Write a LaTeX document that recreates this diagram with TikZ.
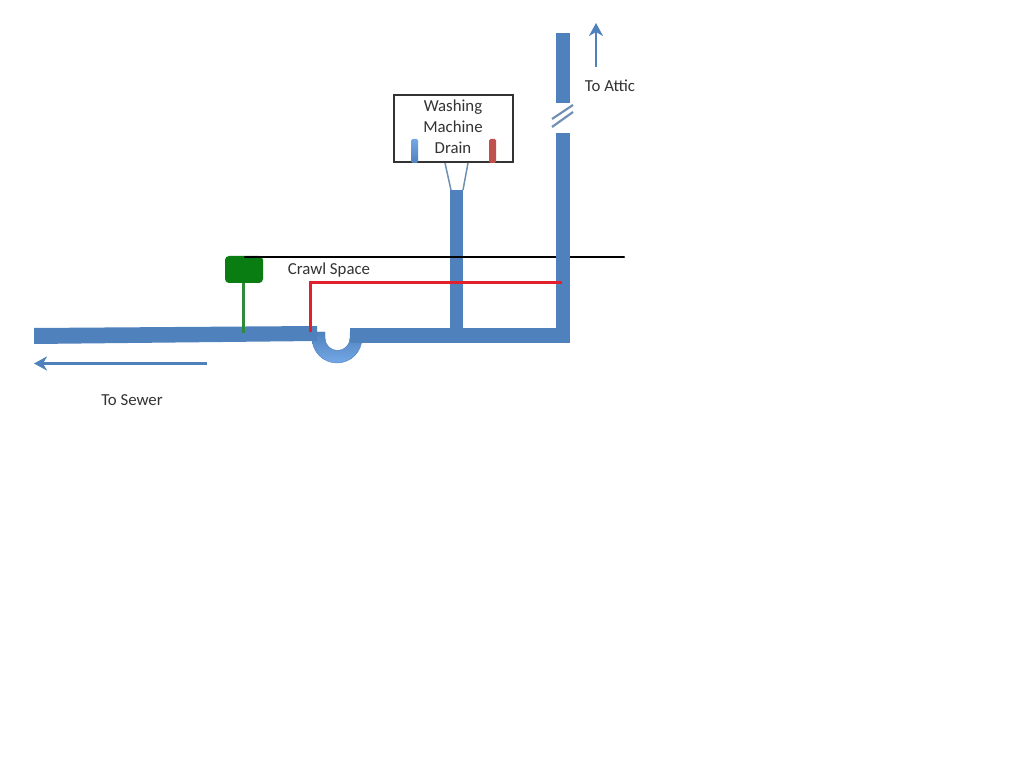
\documentclass[tikz,border=0pt]{standalone}
\usepackage{fontspec}
\setmainfont{Carlito}
\usetikzlibrary{
  positioning,
  arrows.meta
}
\definecolor{pipeblue}{HTML}{4F81BD}
\definecolor{traplight}{HTML}{74A8E6}
\definecolor{thinblue}{HTML}{6F8FB5}
\definecolor{tabred}{HTML}{C0504D}
\definecolor{valvegreen}{HTML}{0A7D12}
\definecolor{stemgreen}{HTML}{2E8B3A}
\definecolor{wirered}{HTML}{E0202C}

\begin{document}
\begin{tikzpicture}[
  x=1pt, y=-1pt,
  pipe/.style={fill=pipeblue, draw=none},
  label/.style={font=\fontsize{16.8}{20}\selectfont, text=black!80},
  flow/.style={draw=pipeblue, line width=2.6pt, -{Stealth[length=13pt,width=14pt,inset=4pt]}},
  wire/.style={line width=3pt, wirered},
  tab/.style={rounded corners=1.5pt, minimum width=7pt, minimum height=24pt, inner sep=0pt}
]
  \useasboundingbox[fill=white] (0,0) rectangle (1023,767);

  % Crawl space ceiling
  \coordinate (ceilleft) at (245,257);
  \coordinate (ceilright) at (624,257);

  % Vent valve
  \node[fill=valvegreen, rounded corners=4pt, minimum width=38pt, minimum height=27pt, inner sep=0pt]
    (valve) at (244,269.5) {};

  % Drain line and trap
  \draw[top color=pipeblue, bottom color=traplight, draw=pipeblue]
    (312,332) -- (312,338) arc (180:0:25) -- (362,332) -- (350,332) -- (350,338)
    arc (0:180:12.5) -- (325,332) -- cycle;
  \fill[pipe] (34,328) -- (317,326) -- (317,341) -- (34,344) -- cycle;
  \fill[pipe] (350,328) rectangle (569,343);

  % Standpipe and stack
  \fill[pipe] (450,190) rectangle (463,343);
  \draw[line width=2.4pt, line cap=round] (ceilleft) -- (ceilright);
  \fill[pipe] (556,133) rectangle (570,343);
  \fill[pipe] (556,33) rectangle (570,103);

  % Break in the stack
  \coordinate (breakaleft) at (552,119);
  \coordinate (breakaright) at (573,105);
  \coordinate (breakbleft) at (552,127);
  \coordinate (breakbright) at (573,112);
  \draw[thinblue, line width=2.2pt] (breakaleft) -- (breakaright);
  \draw[thinblue, line width=2.2pt] (breakbleft) -- (breakbright);

  % Washing machine box
  \node[draw=black!80, line width=1.6pt, fill=white, minimum width=119pt, minimum height=67pt, inner sep=0pt]
    (washer) at (453.5,128.5) {};
  \node[label] (washtext1) at (453,107) {Washing};
  \node[label] (washtext2) at (453,127) {Machine};
  \node[label] (washtext3) at (453,148) {Drain};
  \node[tab, top color=traplight, bottom color=pipeblue] (tabcold) at (414.5,151) {};
  \node[tab, fill=tabred] (tabhot) at (492.5,151) {};

  % Funnel
  \coordinate (funnelleft) at (451,190);
  \coordinate (funnelright) at (463,190);
  \draw[thinblue, line width=1.5pt] (445,163) -- (funnelleft);
  \draw[thinblue, line width=1.5pt] (468,163) -- (funnelright);

  % Stem under the valve
  \coordinate (valvefoot) at (243.5,333);
  \draw[stemgreen, line width=3pt] (valve.south -| valvefoot) -- (valvefoot);

  % Red line
  \coordinate (redfoot) at (310,332);
  \coordinate (redcorner) at (310,283);
  \coordinate (redend) at (562,283);
  \draw[wire] (redfoot) -- (redcorner) -- (redend);

  % Labels and flow arrows
  \node[label] (crawl) at (329,270) {Crawl Space};
  \node[label] (attic) at (610,86) {To Attic};
  \node[label] (sewer) at (132,400) {To Sewer};
  \coordinate (atticfrom) at (596,67);
  \coordinate (atticto) at (596,23);
  \coordinate (sewerfrom) at (207,363.5);
  \coordinate (sewerto) at (34,363.5);
  \draw[flow] (atticfrom) -- (atticto);
  \draw[flow] (sewerfrom) -- (sewerto);
\end{tikzpicture}
\end{document}
